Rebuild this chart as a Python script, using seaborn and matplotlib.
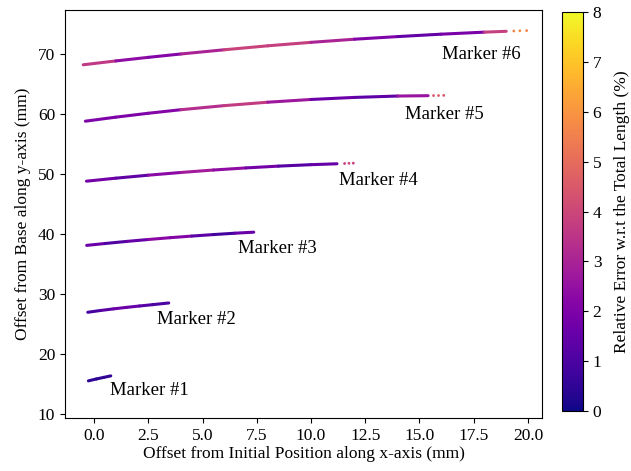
import numpy as np
import pandas as pd
import seaborn as sns
import matplotlib.pyplot as plt
from matplotlib.collections import LineCollection
from matplotlib.colors import Normalize
from matplotlib.cm import ScalarMappable

# traced points of each marker: x offset (mm), y offset (mm), relative error (%)
m1_x = [-0.26, 0.1, 0.45, 0.77]
m1_y = [15.52, 15.83, 16.1, 16.35]
m1_err = [0.6, 0.4, 0.5, 0.6]

m2_x = [-0.29, 0.3, 0.9, 1.5, 2.1, 2.7, 3.44]
m2_y = [26.95, 27.25, 27.52, 27.77, 28.0, 28.22, 28.5]
m2_err = [0.8, 1.0, 1.5, 1.8, 1.4, 1.0, 1.1]

m3_x = [-0.34, 0.5, 1.5, 2.5, 3.5, 4.5, 5.5, 6.5, 7.36]
m3_y = [38.1, 38.41, 38.76, 39.08, 39.38, 39.65, 39.9, 40.13, 40.3]
m3_err = [2.0, 1.3, 0.9, 2.1, 2.4, 1.8, 0.8, 0.9, 2.2]

m4_x = [-0.35, 1.0, 2.5, 4.0, 5.5, 7.0, 8.5, 10.0, 11.2]
m4_y = [48.8, 49.3, 49.8, 50.25, 50.66, 51.01, 51.31, 51.55, 51.7]
m4_err = [2.4, 1.2, 1.6, 3.0, 2.6, 2.1, 1.4, 1.0, 2.0]
m4_tail_x = [11.55, 11.75, 11.95]
m4_tail_y = [51.75, 51.78, 51.8]
m4_tail_err = [3.8, 4.0, 3.8]

m5_x = [-0.4, 1.0, 2.5, 4.0, 6.0, 8.0, 10.0, 12.0, 14.0, 15.4]
m5_y = [58.8, 59.47, 60.12, 60.71, 61.39, 61.96, 62.42, 62.76, 62.99, 63.05]
m5_err = [1.6, 2.4, 1.6, 2.6, 4.0, 3.4, 2.0, 1.3, 1.4, 3.8]
m5_tail_x = [15.65, 15.88, 16.12]
m5_tail_y = [63.07, 63.08, 63.1]
m5_tail_err = [4.4, 4.6, 4.4]

m6_x = [-0.5, 1.0, 2.5, 4.0, 6.0, 8.0, 10.0, 12.0, 14.0, 16.0, 18.0, 19.0]
m6_y = [68.2, 68.84, 69.44, 70.0, 70.7, 71.36, 71.94, 72.46, 72.9, 73.3, 73.64, 73.78]
m6_err = [4.2, 3.0, 1.8, 2.4, 3.6, 4.2, 3.4, 2.6, 1.5, 1.4, 2.4, 5.2]
m6_tail_x = [19.35, 19.63, 19.94]
m6_tail_y = [73.83, 73.87, 73.9]
m6_tail_err = [5.6, 5.8, 5.6]

labels = ['Marker #1', 'Marker #2', 'Marker #3', 'Marker #4', 'Marker #5', 'Marker #6']
label_x = [0.75, 2.9, 6.65, 11.3, 14.35, 16.05]
label_y = [13.85, 25.8, 37.5, 48.95, 59.95, 69.95]

sns.set_style("ticks")
plt.rcParams['font.family'] = ['Liberation Serif', 'DejaVu Serif']
plt.rcParams['xtick.direction'] = 'out'
plt.rcParams['ytick.direction'] = 'out'
# plain black text and frame like the original
for key in ['text.color', 'axes.labelcolor', 'xtick.color', 'ytick.color', 'axes.edgecolor']:
    plt.rcParams[key] = 'black'

fig = plt.figure(figsize=(6.31, 4.71), dpi=100)
ax = fig.add_axes([65/631, 1-418/471, (542-65)/631, (418-10)/471])
cax = fig.add_axes([562/631, 1-411/471, 21/631, 399/471])

cmap = plt.get_cmap('plasma')
norm = Normalize(vmin=0, vmax=8)

traces = [(m1_x, m1_y, m1_err), (m2_x, m2_y, m2_err), (m3_x, m3_y, m3_err),
          (m4_x, m4_y, m4_err), (m5_x, m5_y, m5_err), (m6_x, m6_y, m6_err)]
tails = [(m4_tail_x, m4_tail_y, m4_tail_err), (m5_tail_x, m5_tail_y, m5_tail_err),
         (m6_tail_x, m6_tail_y, m6_tail_err)]

# colored line through each trace, segment color = mean error of its ends
for x, y, err in traces:
    pts = np.column_stack([x, y])
    segs = np.stack([pts[:-1], pts[1:]], axis=1)
    seg_err = (np.array(err[:-1]) + np.array(err[1:])) / 2
    lc = LineCollection(segs, cmap=cmap, norm=norm, linewidths=2.2, capstyle='round')
    lc.set_array(seg_err)
    ax.add_collection(lc)

# sparse points at the end of the longer traces
df = pd.DataFrame({
    'x': sum([list(t[0]) for t in tails], []),
    'y': sum([list(t[1]) for t in tails], []),
    'err': sum([list(t[2]) for t in tails], []),
})
sns.scatterplot(data=df, x='x', y='y', hue='err', palette='plasma', hue_norm=(0, 8),
                s=4, linewidth=0, legend=False, ax=ax)

for txt, lx, ly in zip(labels, label_x, label_y):
    ax.text(lx, ly, txt, fontsize=13.5, va='center', ha='left')

ax.set_xlim(-1.34, 20.65)
ax.set_ylim(9.33, 77.33)
ax.set_xticks(np.arange(0, 20.1, 2.5))
ax.set_xticklabels([f'{v:.1f}' for v in np.arange(0, 20.1, 2.5)])
ax.set_yticks(range(10, 71, 10))
ax.tick_params(labelsize=12.5)
ax.set_xlabel('Offset from Initial Position along x-axis (mm)', fontsize=12.5, labelpad=2)
ax.set_ylabel('Offset from Base along y-axis (mm)', fontsize=12.5, labelpad=5)

sm = ScalarMappable(norm=norm, cmap=cmap)
cb = fig.colorbar(sm, cax=cax)
cb.set_ticks(range(0, 9))
cb.ax.tick_params(labelsize=12.5)
cb.set_label('Relative Error w.r.t the Total Length (%)', fontsize=12.5, labelpad=9)

fig.savefig('out.png', dpi=100)
